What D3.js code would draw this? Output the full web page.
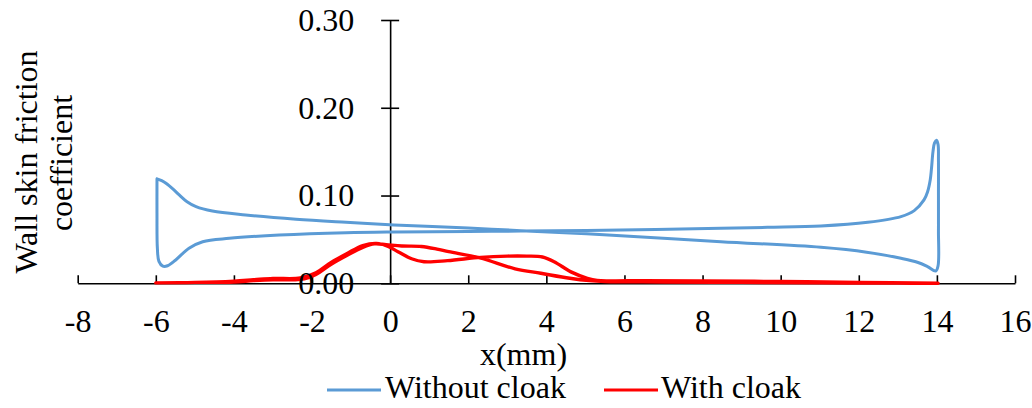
<!DOCTYPE html>
<html>
<head>
<meta charset="utf-8">
<script src="https://cdn.jsdelivr.net/npm/d3@7"></script>
<style>
  html, body { margin: 0; padding: 0; background: #fff; }
  svg { display: block; }
</style>
</head>
<body>
<svg id="chart" width="1032" height="408"></svg>
<script>
// ---- Data ----
const xTicks = [-8, -6, -4, -2, 0, 2, 4, 6, 8, 10, 12, 14, 16];
const yTicks = [0, 0.1, 0.2, 0.3];
const seriesNames = ["Without cloak", "With cloak"];

// Without cloak: closed loop around the surface
const withoutX = [-5.97, -5.85, -5.74, -5.55, -5.4, -5.2, -4.97, -4.55, -3.7, -2.41, -1.13, 0.1, 2, 3.35, 5.91, 8.47, 11.03, 12.2, 13.08, 13.5, 13.76, 13.97,
  14.03, 14.04, 14.04, 14.04, 14.03, 13.99, 13.94, 13.9, 13.86, 13.83, 13.76, 13.67, 13.42, 13.08, 12.23, 11.03, 9.66, 8.47, 5.91, 3.35, 2, 0.1, -1.13, -2.84, -4.12, -4.8, -5.15, -5.49, -5.7, -5.82, -5.92, -5.96, -5.97, -5.97];
const withoutY = [0.119, 0.117, 0.114, 0.107, 0.1007, 0.093, 0.0874, 0.0824, 0.0779, 0.073, 0.0695, 0.0665, 0.063, 0.060, 0.0543, 0.0474, 0.041, 0.0355, 0.0285, 0.024, 0.019, 0.014,
  0.02, 0.06, 0.1, 0.14, 0.158, 0.163, 0.16, 0.15, 0.13, 0.118, 0.104, 0.095, 0.0828, 0.076, 0.0695, 0.0653, 0.0638, 0.0627, 0.0608, 0.0595, 0.059, 0.0585, 0.0577, 0.055, 0.0513, 0.0474, 0.040, 0.0266, 0.02, 0.0195, 0.025, 0.04, 0.08, 0.119];

// With cloak: closed loop around the surface
const withX = [-6, -5, -4, -3.5, -3, -2.5, -2.2, -1.9, -1.5, -1.1, -0.7, -0.4, -0.1, 0.3, 0.8, 1.2, 1.5, 2.3, 3.2, 3.86, 4.6, 5.1, 5.5, 7, 9, 11, 13, 14.03,
  12, 10, 8, 6.5, 5.7, 5.3, 5.05, 4.63, 4.2, 3.9, 3.5, 3.0, 2.32, 1.47, 0.87, 0.55, 0.2, -0.05, -0.35, -0.7, -1.1, -1.5, -1.9, -2.3, -3, -3.5, -4, -5, -6];
const withY = [0.0005, 0.001, 0.0015, 0.003, 0.004, 0.004, 0.005, 0.01, 0.022, 0.032, 0.041, 0.045, 0.044, 0.0425, 0.042, 0.039, 0.036, 0.029, 0.0165, 0.0114, 0.0057, 0.003, 0.002, 0.0015, 0.001, 0.0005, 0.0002, 0,
  0.001, 0.002, 0.0028, 0.003, 0.0028, 0.0032, 0.0057, 0.013, 0.0246, 0.030, 0.031, 0.031, 0.0296, 0.0258, 0.0246, 0.028, 0.036, 0.042, 0.0455, 0.043, 0.034, 0.024, 0.012, 0.006, 0.0055, 0.004, 0.0025, 0.001, 0.0005];

const colors = ["#5B9BD5", "#FF0000"];

// ---- Layout ----
const FONT = "'Liberation Serif', 'Times New Roman', serif";
const FS = 32;
const svg = d3.select("#chart");
const x = d3.scaleLinear().domain([-8, 16]).range([77.7, 1015]);
const y = d3.scaleLinear().domain([0, 0.3]).range([283.3, 20]);
const x0 = x(0), y0 = y(0);

const xAxis = d3.axisBottom(x).tickValues(xTicks).tickSizeInner(-8).tickSizeOuter(0)
  .tickPadding(26).tickFormat(d => String(d));
const yAxis = d3.axisLeft(y).tickValues(yTicks).tickSizeInner(9).tickSizeOuter(0)
  .tickPadding(27).tickFormat(d3.format(".2f"));

function styleAxis(g) {
  g.attr("font-family", FONT).attr("font-size", FS);
  g.selectAll("path, line").attr("stroke", "#000").attr("stroke-width", 1.6);
  g.selectAll("text").attr("fill", "#000");
}

// axis lines (below series)
const gxLines = svg.append("g").attr("transform", `translate(0,${y0})`).call(xAxis).call(styleAxis);
gxLines.selectAll("text").remove();
const gyLines = svg.append("g").attr("transform", `translate(${x0},0)`).call(yAxis).call(styleAxis);
gyLines.selectAll("text").remove();
gyLines.selectAll(".tick line").attr("x1", 9);

// series
const line = d3.line().x(d => x(d[0])).y(d => y(d[1])).curve(d3.curveCatmullRom.alpha(0.5));
const seriesData = [
  d3.zip(withoutX, withoutY),
  d3.zip(withX, withY)
];
const widths = [3, 3.4];
seriesData.forEach((pts, i) => {
  svg.append("path").datum(pts)
    .attr("fill", "none").attr("stroke", colors[i]).attr("stroke-width", widths[i])
    .attr("stroke-linejoin", "round").attr("stroke-linecap", "round")
    .attr("d", line);
});

// tick labels (above series)
const gxText = svg.append("g").attr("transform", `translate(0,${y0})`).call(xAxis).call(styleAxis);
gxText.selectAll("path, line").remove();
const gyText = svg.append("g").attr("transform", `translate(${x0},0)`).call(yAxis).call(styleAxis);
gyText.selectAll("path, line").remove();

// axis titles
svg.append("text").attr("x", 523.5).attr("y", 365).attr("text-anchor", "middle")
  .attr("font-family", FONT).attr("font-size", FS).text("x(mm)");
svg.append("text").attr("transform", "translate(37,162) rotate(-90)").attr("text-anchor", "middle")
  .attr("font-family", FONT).attr("font-size", FS).text("Wall skin friction");
svg.append("text").attr("transform", "translate(72,163) rotate(-90)").attr("text-anchor", "middle")
  .attr("font-family", FONT).attr("font-size", FS).text("coefficient");

// legend
const legendPos = [{lx: 327, tx: 385}, {lx: 604, tx: 661}];
seriesNames.forEach((name, i) => {
  const p = legendPos[i];
  svg.append("line").attr("x1", p.lx).attr("x2", p.lx + 54).attr("y1", 390).attr("y2", 390)
    .attr("stroke", colors[i]).attr("stroke-width", 3.2);
  svg.append("text").attr("x", p.tx).attr("y", 398).attr("font-family", FONT).attr("font-size", FS)
    .text(name);
});
</script>
</body>
</html>
